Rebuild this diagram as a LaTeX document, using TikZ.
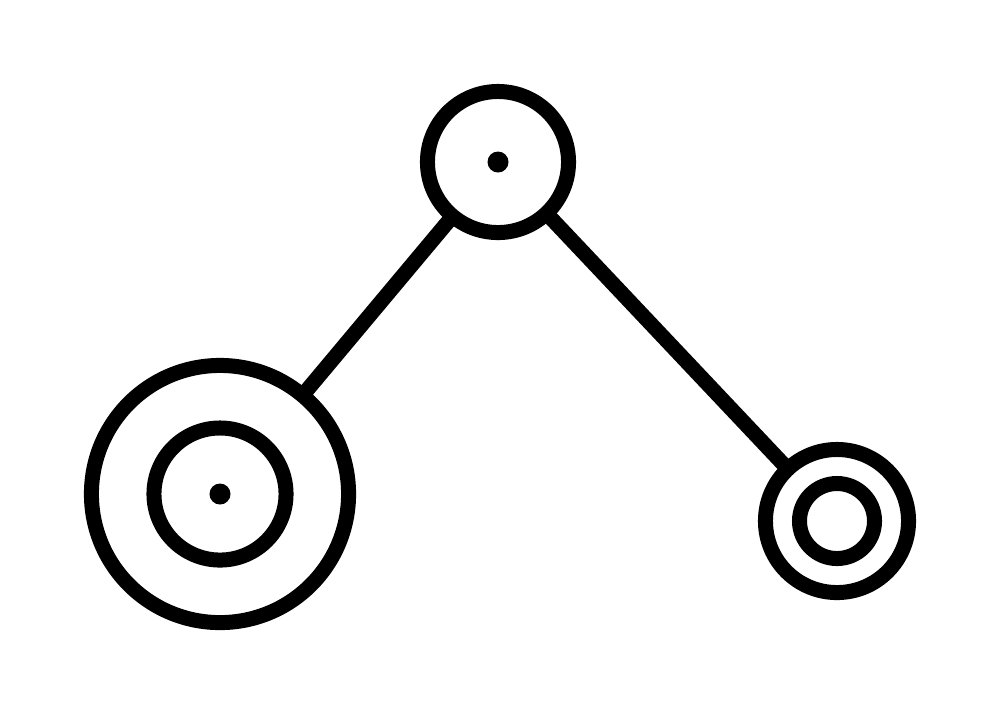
\documentclass[tikz,border=0pt]{standalone}
\usepackage{tikz}

\begin{document}
\begin{tikzpicture}[x=0.01cm, y=-0.01cm]
		\tikzstyle{every node}+=[inner sep=0pt, outer sep=0pt]
		\tikzstyle{ring}=[circle, draw=black, line width=0.15cm]
		\tikzstyle{hub}=[circle, fill=black, minimum size=0.21cm]
		\useasboundingbox (0,0) rectangle (1000,717);
		\node [ring, minimum size=1.41cm] (top) at (498,162) {};
		\node [hub] (topdot) at (498,162) {};
		\node [ring, minimum size=2.57cm] (big) at (220,494) {};
		\node [ring, minimum size=1.32cm] (bigin) at (220,494) {};
		\node [hub] (bigdot) at (220,494) {};
		\node [ring, minimum size=1.43cm] (small) at (837,521) {};
		\node [ring, minimum size=0.75cm] (smallin) at (837,521) {};
		\draw [black, line width=0.15cm] (top) -- (big);
		\draw [black, line width=0.15cm] (top) -- (small);
	\end{tikzpicture}
\end{document}
